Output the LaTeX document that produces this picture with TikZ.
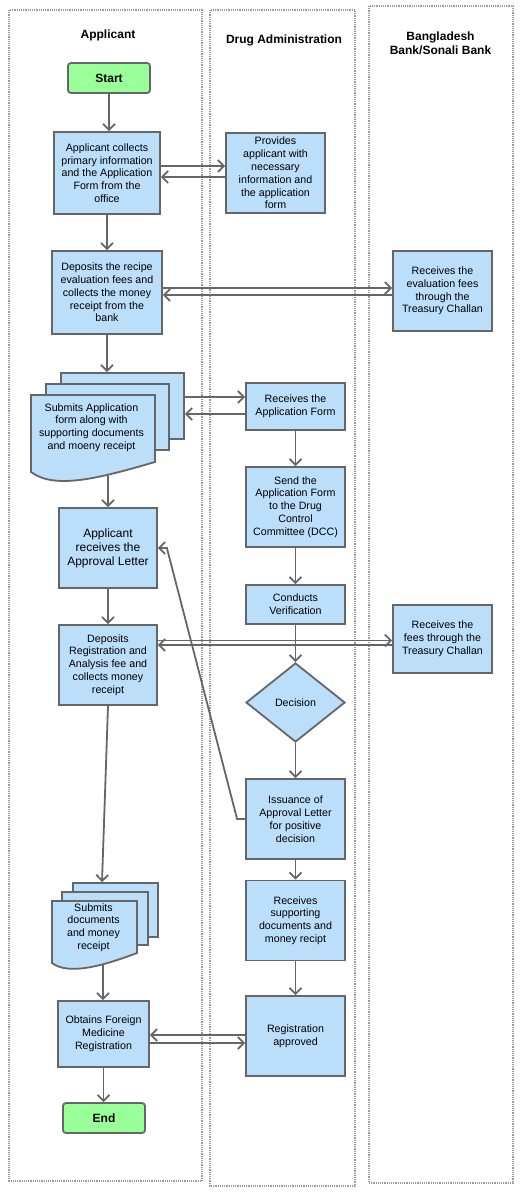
\documentclass[tikz,border=0pt]{standalone}
\usepackage{fontspec}
\setmainfont{Liberation Sans}
\usetikzlibrary{arrows.meta, positioning, shapes.geometric}

\definecolor{boxblue}{HTML}{BBDEFB}
\definecolor{termgreen}{HTML}{99FF99}
\definecolor{linegray}{HTML}{666666}
\definecolor{lanegray}{HTML}{9A9A9A}

\begin{document}
\begin{tikzpicture}[x=1pt, y=-1pt,
    every node/.style={font=\fontsize{10.67}{12.8}\selectfont, align=center, inner sep=1pt},
    proc/.style={draw=linegray, fill=boxblue, line width=1.8pt, minimum width=99pt, minimum height=80pt},
    term/.style={draw=linegray, fill=termgreen, line width=1.8pt, rounded corners=3pt, minimum width=82pt, minimum height=30pt, font=\fontsize{12}{14}\selectfont\bfseries},
    decide/.style={proc, diamond, inner sep=0pt, minimum width=99pt, minimum height=79pt},
    sheet/.style={draw=linegray, fill=boxblue, line width=1.8pt},
    lane/.style={draw=lanegray, densely dotted, line width=1.2pt},
    head/.style={font=\fontsize{12}{14}\selectfont\bfseries},
    flow/.style={draw=linegray, line width=1.8pt, -{Straight Barb[length=6pt, width=12pt]}}]
    \useasboundingbox (0,0) rectangle (531,1194);

    % Lanes
    \draw[lane] (9,10) rectangle (202,1181);
    \draw[lane] (210,10) rectangle (355,1186);
    \draw[lane] (369,6) rectangle (513,1183);
    \node[head] (headapp) at (108,35) {Applicant};
    \node[head] (headdrug) at (284,40) {Drug Administration};
    \node[head] (headbank) at (440.5,43.5) {Bangladesh\\Bank/Sonali Bank};

    % Applicant lane
    \node[term] (start) at (109,78) {Start};
    \node[proc, minimum width=106pt, minimum height=82pt] (collect) at (107,173) {Applicant collects\\primary information\\and the Application\\Form from the\\office};
    \node[proc, minimum width=110pt, minimum height=83pt] (deposit) at (107,292.5) {Deposits the recipe\\evaluation fees and\\collects the money\\receipt from the\\bank};
    % first stack of documents
    \node[sheet, minimum width=123pt, minimum height=66pt] (sub1back) at (122.5,406) {};
    \node[sheet, minimum width=123pt, minimum height=66pt] (sub1mid) at (107.5,417) {};
    \draw[sheet] (31,395) -- (155,395) -- (155,462) .. controls (100,478) and (55,490) .. (31,472) -- cycle;
    \node (sub1) at (91.5,427.5) {Submits Application\\form along with\\supporting documents\\and moeny receipt};
    \coordinate (sub1tip) at (108,475);
    \node[proc, minimum width=98pt, font=\fontsize{12}{14}\selectfont] (approval) at (108,548) {Applicant\\receives the\\Approval Letter};
    \node[proc, minimum width=98pt] (deposit2) at (108,665) {Deposits\\Registration and\\Analysis fee and\\collects money\\receipt};
    % second stack of documents
    \node[sheet, minimum width=85pt, minimum height=54pt] (sub2back) at (115.5,910) {};
    \node[sheet, minimum width=86pt, minimum height=53pt] (sub2mid) at (105,918.5) {};
    \draw[sheet] (52,901) -- (137,901) -- (137,953) .. controls (100,967) and (68,975) .. (52,963) -- cycle;
    \node (sub2) at (93.5,927.5) {Submits\\documents\\and money\\receipt};
    \coordinate (sub2tip) at (103,965);
    \node[proc, minimum width=91pt, minimum height=66pt] (obtain) at (103.5,1034) {Obtains Foreign\\Medicine\\Registration};
    \node[term] (end) at (104,1118) {End};

    % Drug Administration lane
    \node[proc] (provide) at (275.5,173) {Provides\\applicant with\\necessary\\information and\\the application\\form};
    \node[proc, minimum height=47pt] (recvform) at (295.5,406.5) {Receives the\\Application Form};
    \node[proc] (sendform) at (295.5,507) {Send the\\Application Form\\to the Drug\\Control\\Committee (DCC)};
    \node[proc, minimum height=39pt] (verify) at (295.5,604.5) {Conducts\\Verification};
    \node[decide] (decision) at (295.5,702.5) {Decision};
    \node[proc] (issue) at (295.5,819) {Issuance of\\Approval Letter\\for positive\\decision};
    \node[proc] (recvdocs) at (295.5,920.5) {Receives\\supporting\\documents and\\money recipt};
    \node[proc] (regapproved) at (295.5,1036) {Registration\\approved};

    % Bank lane
    \node[proc] (evalfee) at (442.5,291) {Receives the\\evaluation fees\\through the\\Treasury Challan};
    \node[proc, minimum height=68pt] (fees) at (442.5,639) {Receives the\\fees through the\\Treasury Challan};

    % Edges
    \draw[flow] (start.south) -- (start.south |- collect.north);
    \draw[flow] (collect) -- (deposit);
    \draw[flow] (deposit.south) -- (deposit.south |- sub1back.north);
    \draw[flow] (sub1tip) -- (approval.north);
    \draw[flow] (approval) -- (deposit2);
    \draw[flow] (deposit2.south) -- ([xshift=-13.5pt]sub2back.north);
    \draw[flow] (sub2tip) -- (sub2tip |- obtain.north);
    \draw[flow] (obtain.south) -- (obtain.south |- end.north);

    \draw[flow] (recvform) -- (sendform);
    \draw[flow] (sendform) -- (verify);
    \draw[flow] (verify) -- (decision);
    \draw[flow] (decision) -- (issue);
    \draw[flow] (issue) -- (recvdocs);
    \draw[flow] (recvdocs) -- (regapproved);

    \draw[flow] ([yshift=7pt]collect.east) -- ([yshift=7pt]provide.west);
    \draw[flow] ([yshift=-4pt]provide.west) -- ([yshift=-4pt]collect.east);
    \draw[flow] ([yshift=4.5pt]deposit.east) -- ([yshift=4.5pt]deposit.east -| evalfee.west);
    \draw[flow] ([yshift=-2.5pt]deposit.east -| evalfee.west) -- ([yshift=-2.5pt]deposit.east);
    \draw[flow] ([yshift=9.5pt]recvform.west -| sub1back.east) -- ([yshift=9.5pt]recvform.west);
    \draw[flow] ([yshift=-7.5pt]recvform.west) -- ([yshift=-7.5pt]recvform.west -| sub1back.east);
    \draw[flow] (issue.west) -- ++(-8,0) -- ([xshift=9pt]approval.east) -- (approval.east);
    \draw[flow] ([yshift=24.5pt]deposit2.east) -- ([yshift=24.5pt]deposit2.east -| fees.west);
    \draw[flow] ([yshift=20pt]deposit2.east -| fees.west) -- ([yshift=20pt]deposit2.east);
    \draw[flow] ([yshift=1pt]regapproved.west) -- ([yshift=1pt]regapproved.west -| obtain.east);
    \draw[flow] ([yshift=-7pt]regapproved.west -| obtain.east) -- ([yshift=-7pt]regapproved.west);
\end{tikzpicture}
\end{document}
